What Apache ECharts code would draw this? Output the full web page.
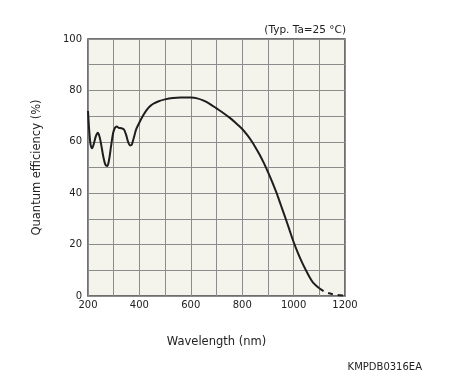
<!DOCTYPE html>
<html><head><meta charset="utf-8">
<script src="https://cdn.jsdelivr.net/npm/echarts@6/dist/echarts.min.js"></script>
<style>html,body{margin:0;padding:0;background:#fff}#c{width:452px;height:387px}</style>
</head><body><div id="c"></div>
<script>
const wavelengthSolid = [200,205,210,216,222,230,238,245,252,260,268,275,282,290,298,305,312,320,330,340,348,356,363,370,378,388,400,415,428,440,454,475,500,530,560,600,625,650,675,700,725,752,775,800,820,835,850,869,885,900,917,934,950,966,983,1000,1015,1031,1048,1064,1075,1088,1100];
const qeSolid = [72,64,59,57.5,59,62,63.5,62,58.5,54,51,50.6,53,58.5,63.5,65.5,66,65.4,65.3,64.8,62.8,60,58.6,58.8,61.5,65,67.5,70.3,72.3,73.7,74.8,75.8,76.5,77,77.2,77.2,76.9,76,74.7,73,71.3,69.3,67.3,65,62.6,60.5,58.1,54.8,51.6,48.3,44.3,40,35.5,31,26,21,17.2,13.5,10,7,5.3,4,3];
const wavelengthDashed = [1100,1120,1145,1168,1200];
const qeDashed = [3,1.7,0.9,0.4,0.1];
const xTicks = [200,400,600,800,1000,1200];
const yTicks = [0,20,40,60,80,100];
const FONT = 'DejaVu Sans';
const chart = echarts.init(document.getElementById('c'));
chart.setOption({
  animation:false,
  backgroundColor:'#fff',
  grid:{left:88,top:39,width:257,height:257,show:true,backgroundColor:'#f4f3ec',borderColor:'#444',borderWidth:1.5},
  title:{text:'(Typ. Ta=25 °C)',right:101,top:20,textStyle:{fontFamily:FONT,fontSize:10.5,fontWeight:'normal',color:'#222'}},
  graphic:[{type:'text',right:30,top:362,style:{text:'KMPDB0316EA',font:'10px "DejaVu Sans"',fill:'#222'}}],
  xAxis:{type:'value',min:200,max:1200,interval:100,
    name:'Wavelength (nm)',nameLocation:'middle',nameGap:40,
    nameTextStyle:{fontFamily:FONT,fontSize:11.5,color:'#222'},
    axisLine:{show:false},axisTick:{show:false},
    splitLine:{show:true,lineStyle:{color:'#8c8c8c',width:1}},
    axisLabel:{fontFamily:FONT,fontSize:10,color:'#222',margin:4,
      formatter:v=>xTicks.includes(v)?String(v):''}},
  yAxis:{type:'value',min:0,max:100,interval:10,
    name:'Quantum efficiency (%)',nameLocation:'middle',nameGap:45,
    nameTextStyle:{fontFamily:FONT,fontSize:11.5,color:'#222'},
    axisLine:{show:false},axisTick:{show:false},
    splitLine:{show:true,lineStyle:{color:'#8c8c8c',width:1}},
    axisLabel:{fontFamily:FONT,fontSize:10,color:'#222',margin:6,
      formatter:v=>yTicks.includes(v)?String(v):''}},
  series:[
    {type:'line',data:wavelengthSolid.map((x,i)=>[x,qeSolid[i]]),smooth:0.3,showSymbol:false,
      lineStyle:{color:'#1e1e1e',width:2}},
    {type:'line',data:wavelengthDashed.map((x,i)=>[x,qeDashed[i]]),smooth:0.3,showSymbol:false,
      lineStyle:{color:'#1e1e1e',width:2,type:[5,5]}}
  ]
});
</script></body></html>
